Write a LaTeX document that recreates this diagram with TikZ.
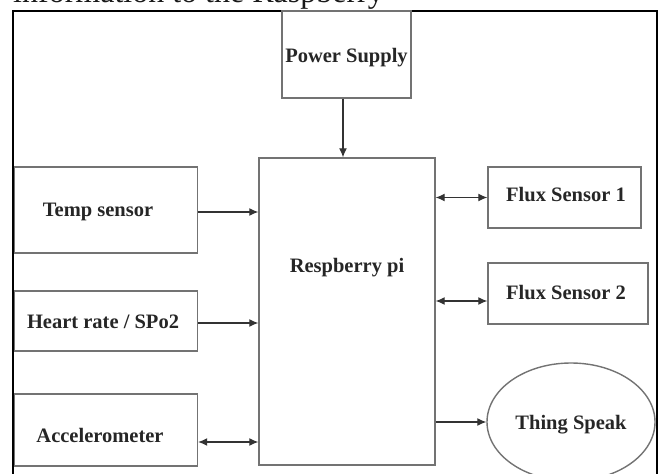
\documentclass[tikz,border=0pt]{standalone}
\usepackage{fontspec}
\setmainfont{Liberation Serif}
\usetikzlibrary{arrows.meta,shapes.geometric}
\tikzset{
  blk/.style={draw=black!55, line width=1.4pt, rectangle, inner sep=0pt, fill=white},
  lbl/.style={font=\fontsize{20.5}{24}\selectfont\bfseries, text=black!85, inner sep=0pt},
  arr/.style={draw=black!80, line width=1.2pt, -{Latex[length=9pt,width=8pt]}},
  darr/.style={draw=black!80, line width=1.2pt, {Latex[length=9pt,width=8pt]}-{Latex[length=9pt,width=8pt]}},
  frame/.style={draw=black, line width=2.2pt}
}
\begin{document}
\begin{tikzpicture}[x=1pt,y=-1pt]
\useasboundingbox (0,0) rectangle (660,473);
\clip (0,0) rectangle (660,473);
% cut-off caption line at the top
\node[anchor=base west, inner sep=0pt, font=\fontsize{32}{36}\selectfont, text=black!90] (cap) at (13,3) {information to the Raspberry};
% outer frame
\draw[frame] (13,480) -- (13,11) -- (657,11) -- (657,480);
% blocks
\node[blk, minimum width=129pt, minimum height=87pt] (power) at (346.5,54.5) {};
\node[lbl] (powerlbl) at (346.5,58) {Power Supply};
\node[blk, minimum width=176pt, minimum height=307pt] (rpi) at (347,311.5) {};
\node[lbl] (rpilbl) at (347,268) {Respberry pi};
\node[blk, minimum width=183pt, minimum height=86pt] (temp) at (106,210) {};
\node[lbl] (templbl) at (98,212) {Temp sensor};
\node[blk, minimum width=183pt, minimum height=60pt] (heart) at (106,321) {};
\node[lbl] (heartlbl) at (103,322) {Heart rate / SPo2};
\node[blk, minimum width=183pt, minimum height=72pt] (accel) at (106,430) {};
\node[lbl] (accellbl) at (100,435) {Accelerometer};
\node[blk, minimum width=153pt, minimum height=61pt] (flux1) at (564.5,197.5) {};
\node[lbl] (flux1lbl) at (566,195) {Flux Sensor 1};
\node[blk, minimum width=160pt, minimum height=61pt] (flux2) at (568,293.5) {};
\node[lbl] (flux2lbl) at (566,293) {Flux Sensor 2};
\node[draw=black!55, line width=1.4pt, ellipse, minimum width=168pt, minimum height=118pt, inner sep=0pt] (thing) at (571,422) {};
\node[lbl] (thinglbl) at (571,425) {Thing Speak};
% connectors
\draw[arr] ([xshift=-3.5pt]power.south) -- ([xshift=-3.5pt]power.south |- rpi.north);
\draw[arr] ([yshift=-2pt]temp.east) -- ([yshift=-2pt]temp.east -| rpi.west);
\draw[arr] ([yshift=-2pt]heart.east) -- ([yshift=-2pt]heart.east -| rpi.west);
\draw[darr] ([yshift=-12pt]accel.east) -- ([yshift=-12pt]accel.east -| rpi.west);
\draw[darr] (rpi.east |- flux1.west) -- (flux1.west);
\draw[darr] ([yshift=-7.5pt]rpi.east |- flux2.west) -- ([yshift=-7.5pt]flux2.west);
\draw[arr] (rpi.east |- thing.west) -- (thing.west);
\end{tikzpicture}
\end{document}
